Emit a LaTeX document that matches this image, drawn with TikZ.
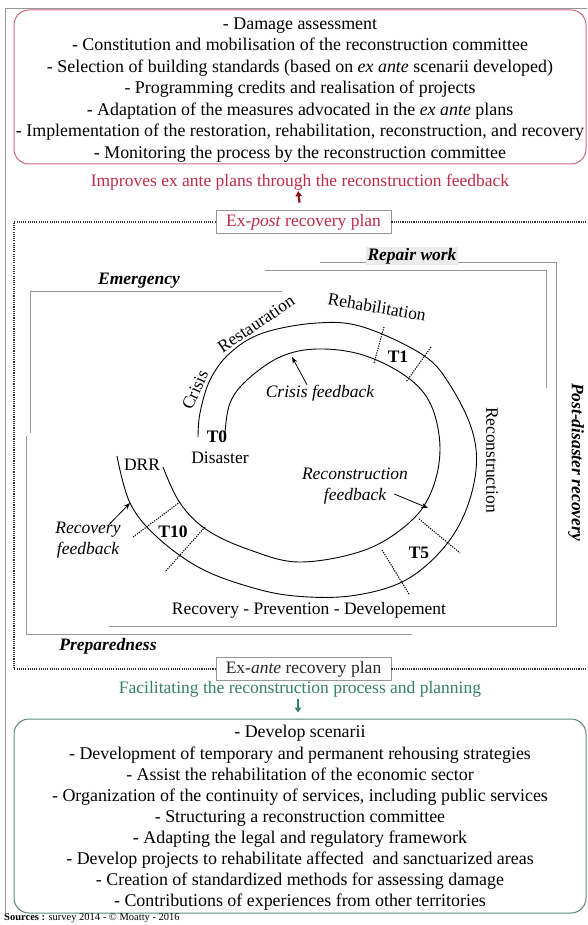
\documentclass[tikz,border=0pt]{standalone}
\usepackage{fontspec}
\setmainfont{Liberation Serif}
\usepackage{xcolor}
\usetikzlibrary{arrows.meta}

\definecolor{planred}{RGB}{192,42,72}
\definecolor{boxred}{RGB}{205,105,125}
\definecolor{arrowred}{RGB}{140,20,30}
\definecolor{plangreen}{RGB}{52,128,98}
\definecolor{boxgreen}{RGB}{92,138,118}
\definecolor{framegray}{RGB}{150,150,150}

\tikzset{
    txt/.style={font=\fontsize{17.5}{20.7}\selectfont, inner sep=0pt},
    listbox/.style={draw, rounded corners=15pt, line width=1pt, minimum width=572pt},
    listtext/.style={align=center, inner sep=0pt},
    planbox/.style={draw=framegray, line width=0.8pt, minimum height=23pt,
        minimum width=175pt, inner sep=0pt, font=\fontsize{17.5}{20}\selectfont},
    planline/.style={dash pattern=on 1.1pt off 1.1pt, line width=1.1pt, black!80},
    bracket/.style={framegray, line width=0.9pt},
    phase/.style={font=\fontsize{17.5}{20}\selectfont\bfseries\itshape, inner sep=0pt},
    stage/.style={txt},
    tmark/.style={font=\fontsize{17.5}{20}\selectfont\bfseries, inner sep=0pt},
    feedback/.style={txt, font=\fontsize{17.5}{20.7}\selectfont\itshape, align=center},
    curve/.style={line width=0.9pt},
    tick/.style={dash pattern=on 1.2pt off 1.2pt, line width=1.1pt},
    fbarrow/.style={-Stealth, line width=0.8pt},
    bigarrow/.style={-{Triangle[length=5pt, width=6.5pt]}, line width=2.2pt}
}

\begin{document}
\begin{tikzpicture}[x=1pt, y=-1pt]
    \useasboundingbox (0,0) rectangle (587,925);

    % outer frame
    \draw[framegray, line width=0.8pt] (587,8) -- (5,8) -- (5,913);

    % ex post list
    \node[listbox, draw=boxred, minimum height=154pt] (postbox) at (300,87) {};
    \node[listtext, font=\fontsize{17.9}{21.5}\selectfont] (postlist) at ([yshift=-3pt]postbox.center)
        {- Damage assessment\\
         - Constitution and mobilisation of the reconstruction committee\\
         - Selection of building standards (based on \textit{ex ante} scenarii developed)\\
         - Programming credits and realisation of projects\\
         - Adaptation of the measures advocated in the \textit{ex ante} plans\\
         - Implementation of the restoration, rehabilitation, reconstruction, and recovery\\
         - Monitoring the process by the reconstruction committee};
    \node[txt, text=planred] (improve) at (300,182)
        {Improves ex ante plans through the reconstruction feedback};
    \node[planbox, text=planred] (expost) at (303.5,222)
        {Ex-\textit{post} recovery plan};
    \draw[bigarrow, arrowred, shorten <=7.5pt, shorten >=1pt] ([xshift=-3pt]expost.north) -- ([xshift=-2pt]improve.south);

    % ex ante list
    \node[planbox, text=black!85] (exante) at (303.5,669)
        {Ex-\textit{ante} recovery plan};
    \node[txt, text=plangreen] (facil) at (300,689)
        {Facilitating the reconstruction process and planning};
    \node[listbox, draw=boxgreen, minimum height=194pt] (antebox) at (300,816) {};
    \node[listtext, font=\fontsize{17.9}{21.1}\selectfont] (antelist) at ([yshift=-2pt]antebox.center)
        {- Develop scenarii\\
         - Development of temporary and permanent rehousing strategies\\
         - Assist the rehabilitation of the economic sector\\
         - Organization of the continuity of services, including public services\\
         - Structuring a reconstruction committee\\
         - Adapting the legal and regulatory framework\\
         - Develop projects to rehabilitate affected \ and sanctuarized areas\\
         - Creation of standardized methods for assessing damage\\
         - Contributions of experiences from other territories};
    \draw[bigarrow, plangreen, shorten <=2pt, shorten >=6pt] ([xshift=-2pt]facil.south) -- ([xshift=-2pt]antebox.north);

    % dotted frame
    \draw[planline] (expost.west) -- (14,222) -- (14,669) -- (exante.west);
    \draw[planline] (expost.east) -- (587,222);
    \draw[planline] (exante.east) -- (587,669);

    % phase brackets
    \draw[bracket] (282,291) -- (30,291) -- (30,433);
    \draw[bracket] (26,436) -- (26,634) -- (412,634);
    \draw[bracket] (320,262) -- (556,262) -- (556,626) -- (109,626);
    \draw[bracket] (265,270) -- (546,270) -- (546,388);

    \node[phase] (emergency) at (139,281) {Emergency};
    \node[phase, fill=black!8, inner sep=1.5pt] (repair) at (412,256) {Repair work};
    \node[phase] (prepared) at (108,646) {Preparedness};
    \node[phase, rotate=-90] (postdis) at (576,462) {Post-disaster recovery};

    % cycle
    \draw[curve] plot[smooth, tension=0.6] coordinates {
        (198,437) (200,413) (210,380) (230,353) (263,333) (317,323) (363,327)
        (423,355) (450,385) (472,430) (476,470) (464,515) (440,552) (402,582)
        (350,596) (295,596) (250,587) (200,568) (157,537) (130,503) (117,456)};
    \draw[curve] plot[smooth, tension=0.6] coordinates {
        (225,433) (230,403) (247,380) (280,357) (317,349) (363,355) (407,377)
        (431,405) (440,448) (432,490) (410,522) (365,550) (300,562) (250,550)
        (207,530) (180,503) (163,467)};

    % time marks
    \draw[tick] (384,327) -- (374,363);
    \draw[tick] (431,347) -- (406,382);
    \draw[tick] (419,519) -- (460,553);
    \draw[tick] (382,550) -- (409,594);
    \draw[tick] (133,537) -- (180,502);
    \draw[tick] (205,527) -- (165,572);

    \node[tmark] (t0) at (217,437) {T0};
    \node[stage] (disaster) at (220,458) {Disaster};
    \node[tmark] (t1) at (398,357) {T1};
    \node[tmark] (t5) at (419,553) {T5};
    \node[tmark] (t10) at (173,532) {T10};
    \node[stage] (drr) at (142,465) {DRR};

    \node[stage, rotate=66] (crisis) at (195,390) {Crisis};
    \node[stage, rotate=34] (restau) at (256,324) {Restauration};
    \node[stage, rotate=-10] (rehab) at (377,307) {Rehabilitation};
    \node[stage, rotate=-90] (recon) at (492,460) {Reconstruction};
    \node[stage] (rpd) at (309,610) {Recovery - Prevention - Developement};

    % feedbacks
    \node[feedback] (crisisfb) at (320,393) {Crisis feedback};
    \node[feedback] (reconfb) at (355,486) {Reconstruction\\feedback};
    \node[feedback] (recovfb) at (88,540) {Recovery\\feedback};
    \coordinate (crisistip) at (292,357);
    \coordinate (recontip) at (428,508);
    \coordinate (recovtip) at (130,503);
    \draw[fbarrow] ([xshift=-13pt]crisisfb.north) -- (crisistip);
    \draw[fbarrow] ([xshift=-14pt,yshift=-8pt]reconfb.east) -- (recontip);
    \draw[fbarrow] ([xshift=-12pt,yshift=-3pt]recovfb.north east) -- (recovtip);

    \node[anchor=west, inner sep=0pt, font=\fontsize{10.5}{12}\selectfont] (sources) at (4,918)
        {\textbf{Sources :} survey 2014 - © Moatty - 2016};
\end{tikzpicture}
\end{document}
